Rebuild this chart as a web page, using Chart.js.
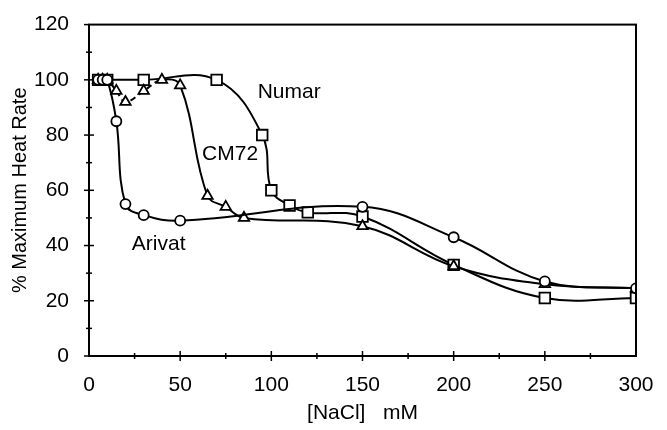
<!DOCTYPE html>
<html>
<head>
<meta charset="utf-8">
<script src="https://cdn.jsdelivr.net/npm/chart.js@4"></script>
<style>
  html, body { margin: 0; padding: 0; background: #fff; }
  #wrap { width: 667px; height: 430px; position: relative; }
</style>
</head>
<body>
<div id="wrap"><canvas id="heatChart"></canvas></div>
<script>
// Data
const numarX = [5, 10, 30, 70, 95, 100, 110, 120, 150, 200, 250, 300];
const numarY = [100, 100, 100, 100, 80, 60, 54.5, 52, 50.5, 33, 21, 21];

const cm72X = [5, 7.5, 10, 15, 20, 30, 40, 50, 65, 75, 85, 150, 200, 250, 300];
const cm72Y = [100, 100, 100, 96, 92, 96, 100, 98, 58, 54, 50, 47, 32.5, 26, 24.5];

const arivatX = [5, 7.5, 10, 15, 20, 30, 50, 150, 200, 250, 300];
const arivatY = [100, 100, 100, 85, 55, 51, 49, 54, 43, 27, 24.5];

const xTicks = [0, 50, 100, 150, 200, 250, 300];
const yTicks = [0, 20, 40, 60, 80, 100, 120];

// series name labels, placed in data coordinates
const seriesLabels = [
    { text: 'Numar', x: 92.5, y: 95.5 },
    { text: 'CM72', x: 62, y: 73 },
    { text: 'Arivat', x: 23.5, y: 40.5 }
];

const FONT = '"Liberation Sans", Arial, sans-serif';

function toPoints(xs, ys) {
    return xs.map((x, i) => ({ x: x, y: ys[i] }));
}

// frame, crossing ticks and series labels
const framePlugin = {
    id: 'frame',
    afterDatasetsDraw(chart) {
        const ctx = chart.ctx;
        const area = chart.chartArea;
        const xs = chart.scales.x;
        const ys = chart.scales.y;
        ctx.save();
        ctx.strokeStyle = '#000';
        ctx.lineWidth = 2;
        ctx.strokeRect(area.left, area.top, area.right - area.left, area.bottom - area.top);

        ctx.lineWidth = 1.5;
        // x ticks (major every 50, minor every 25)
        for (let v = 25; v < 300; v += 25) {
            const px = xs.getPixelForValue(v);
            const len = v % 50 === 0 ? 5 : 3;
            ctx.beginPath();
            ctx.moveTo(px, area.bottom - len);
            ctx.lineTo(px, area.bottom + len);
            ctx.stroke();
        }
        // y ticks (major every 20, minor every 10)
        for (let v = 0; v <= 120; v += 10) {
            const py = ys.getPixelForValue(v);
            const len = v % 20 === 0 ? 5 : 3;
            ctx.beginPath();
            ctx.moveTo(area.left - len, py);
            ctx.lineTo(v === 120 ? area.left : area.left + len, py);
            ctx.stroke();
        }

        ctx.fillStyle = '#000';
        ctx.font = '21px ' + FONT;
        ctx.textAlign = 'left';
        ctx.textBaseline = 'middle';
        seriesLabels.forEach(l => {
            ctx.fillText(l.text, xs.getPixelForValue(l.x), ys.getPixelForValue(l.y));
        });
        ctx.restore();
    }
};

const common = {
    borderColor: '#000',
    borderWidth: 2,
    pointBackgroundColor: '#fff',
    pointBorderColor: '#000',
    pointBorderWidth: 1.8,
    tension: 0.4,
    fill: false
};

const chart = new Chart(document.getElementById('heatChart'), {
    type: 'line',
    data: {
        datasets: [
            Object.assign({}, common, {
                label: 'Arivat',
                data: toPoints(arivatX, arivatY),
                pointStyle: 'circle',
                pointRadius: 5
            }),
            Object.assign({}, common, {
                label: 'CM72',
                data: toPoints(cm72X, cm72Y),
                pointStyle: 'triangle',
                pointRadius: 6,
                segment: {
                    borderDash: ctx => (ctx.p0.parsed.x >= 15 && ctx.p1.parsed.x <= 40) ? [6, 4] : undefined
                }
            }),
            Object.assign({}, common, {
                label: 'Numar',
                data: toPoints(numarX, numarY),
                pointStyle: 'rect',
                pointRadius: 7.5
            })
        ]
    },
    options: {
        responsive: true,
        maintainAspectRatio: false,
        animation: false,
        layout: { padding: { top: 18, right: 31, left: 0, bottom: 0 } },
        plugins: {
            legend: { display: false },
            tooltip: { enabled: false }
        },
        scales: {
            x: {
                type: 'linear',
                min: 0,
                max: 300,
                grid: { display: false },
                border: { display: false },
                afterBuildTicks: axis => { axis.ticks = xTicks.map(v => ({ value: v })); },
                afterFit: axis => { axis.height = 74; },
                ticks: {
                    color: '#000',
                    padding: 9,
                    maxRotation: 0,
                    font: { family: FONT, size: 21 }
                },
                title: {
                    display: true,
                    text: '[NaCl]   mM',
                    color: '#000',
                    padding: { top: 12 },
                    font: { family: FONT, size: 21 }
                }
            },
            y: {
                type: 'linear',
                min: 0,
                max: 120,
                grid: { display: false },
                border: { display: false },
                afterBuildTicks: axis => { axis.ticks = yTicks.map(v => ({ value: v })); },
                afterFit: axis => { axis.width = 89; },
                ticks: {
                    color: '#000',
                    padding: 12,
                    font: { family: FONT, size: 21 }
                },
                title: {
                    display: true,
                    text: '% Maximum Heat Rate',
                    color: '#000',
                    padding: { top: 8, bottom: 0 },
                    font: { family: FONT, size: 20 }
                }
            }
        }
    },
    plugins: [framePlugin]
});
</script>
</body>
</html>
